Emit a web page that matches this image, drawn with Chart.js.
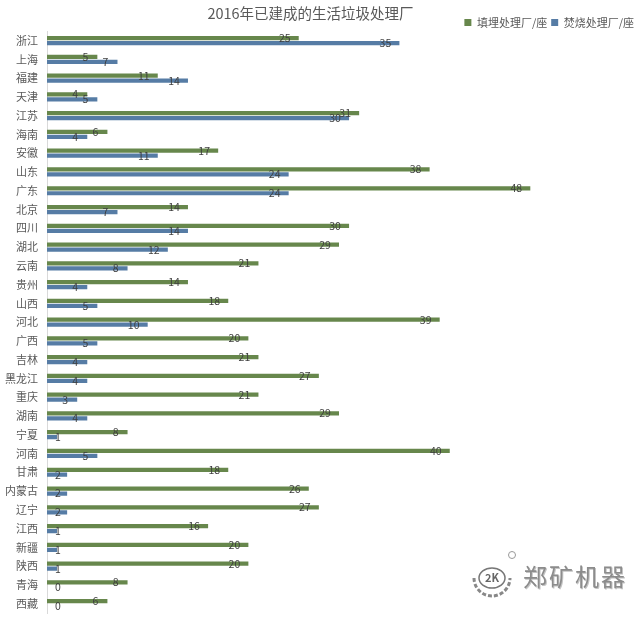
<!DOCTYPE html>
<html>
<head>
<meta charset="utf-8">
<script src="https://cdn.jsdelivr.net/npm/chart.js@4"></script>
<style>
body{margin:0;background:#fff;font-family:"Noto Sans CJK SC";}
#wrap{position:relative;width:639px;height:621px;overflow:hidden;}
#myChart{filter:blur(0.35px);}
#mark{position:absolute;left:523px;top:561px;font-size:24px;line-height:30px;color:#8c8c8c;font-weight:400;letter-spacing:2px;text-shadow:1px 1px 0 #c4c4c4;white-space:nowrap;}
#logo{position:absolute;left:471px;top:550px;}
</style>
</head>
<body>
<div id="wrap">
<canvas id="myChart" width="639" height="621"></canvas>
<svg id="logo" width="52" height="50" viewBox="0 0 52 50">
  <circle cx="41" cy="5" r="3.5" fill="none" stroke="#999" stroke-width="1"/>
  <ellipse cx="21" cy="28" rx="13" ry="10" fill="none" stroke="#777" stroke-width="1.5"/>
  <path d="M3 28a18 18 0 0 0 36 0" fill="none" stroke="#888" stroke-width="3" stroke-dasharray="4 2"/>
  <text x="21" y="32" font-size="11" font-weight="700" text-anchor="middle" fill="#666">2K</text>
</svg>
<div id="mark">郑矿机器</div>
</div>
<script>
const provinces = ['浙江','上海','福建','天津','江苏','海南','安徽','山东','广东','北京','四川','湖北','云南','贵州','山西','河北','广西','吉林','黑龙江','重庆','湖南','宁夏','河南','甘肃','内蒙古','辽宁','江西','新疆','陕西','青海','西藏'];
const landfill = [25,5,11,4,31,6,17,38,48,14,30,29,21,14,18,39,20,21,27,21,29,8,40,18,26,27,16,20,20,8,6];
const incineration = [35,7,14,5,30,4,11,24,24,7,14,12,8,4,5,10,5,4,4,3,4,1,5,2,2,2,1,1,1,0,0];

const cjk = '"Noto Sans CJK SC"';

// value labels sit just inside the bar end, like the office chart
const barLabels = {
    id:'barLabels',
    afterDatasetsDraw(chart){
        const ctx = chart.ctx;
        ctx.save();
        ctx.font = '10.5px ' + cjk;
        ctx.fillStyle = '#3f3f3f';
        ctx.textAlign = 'center';
        ctx.textBaseline = 'middle';
        chart.data.datasets.forEach(function(ds,i){
            chart.getDatasetMeta(i).data.forEach(function(bar,j){
                const v = ds.data[j];
                const back = v>9 ? 14 : 12;
                ctx.fillText(v, Math.max(58, bar.x-back), bar.y);
            });
        });
        ctx.restore();
    }
};

// title and legend share one row at the top
const moveHeader = {
    id:'moveHeader',
    afterLayout(chart){
        const lg = chart.legend;
        lg.left += 7;
        lg.right += 7;
        lg.top = 13;
        lg.bottom = 13+lg.height;
        chart.titleBlock.top = 10;
        chart.titleBlock.left -= 5;
        chart.titleBlock.right -= 5;
    }
};

new Chart(document.getElementById('myChart').getContext('2d'),{
    type:'bar',
    data:{
        labels:provinces,
        datasets:[
            {label:'填埋处理厂/座',data:landfill,backgroundColor:'#67874c',categoryPercentage:0.532,barPercentage:0.85},
            {label:'焚烧处理厂/座',data:incineration,backgroundColor:'#567ca5',categoryPercentage:0.532,barPercentage:0.85}
        ]
    },
    options:{
        indexAxis:'y',
        responsive:false,
        animation:false,
        layout:{padding:{right:8,bottom:8}},
        scales:{
            x:{display:false,min:0,max:58},
            y:{
                afterFit(scale){scale.width = 47;},
                grid:{display:false},
                border:{color:'#d9d9d9'},
                ticks:{color:'#595959',padding:1,autoSkip:false,font:{family:cjk,size:11}}
            }
        },
        plugins:{
            title:{display:true,text:'2016年已建成的生活垃圾处理厂',color:'#595959',font:{family:cjk,size:14.5,weight:'normal',lineHeight:0.43},padding:{top:0,bottom:0}},
            legend:{
                position:'top',
                align:'end',
                labels:{boxWidth:7,boxHeight:7,padding:4,color:'#595959',font:{family:cjk,size:11}}
            },
            tooltip:{enabled:false}
        }
    },
    plugins:[barLabels,moveHeader]
});
</script>
</body>
</html>
